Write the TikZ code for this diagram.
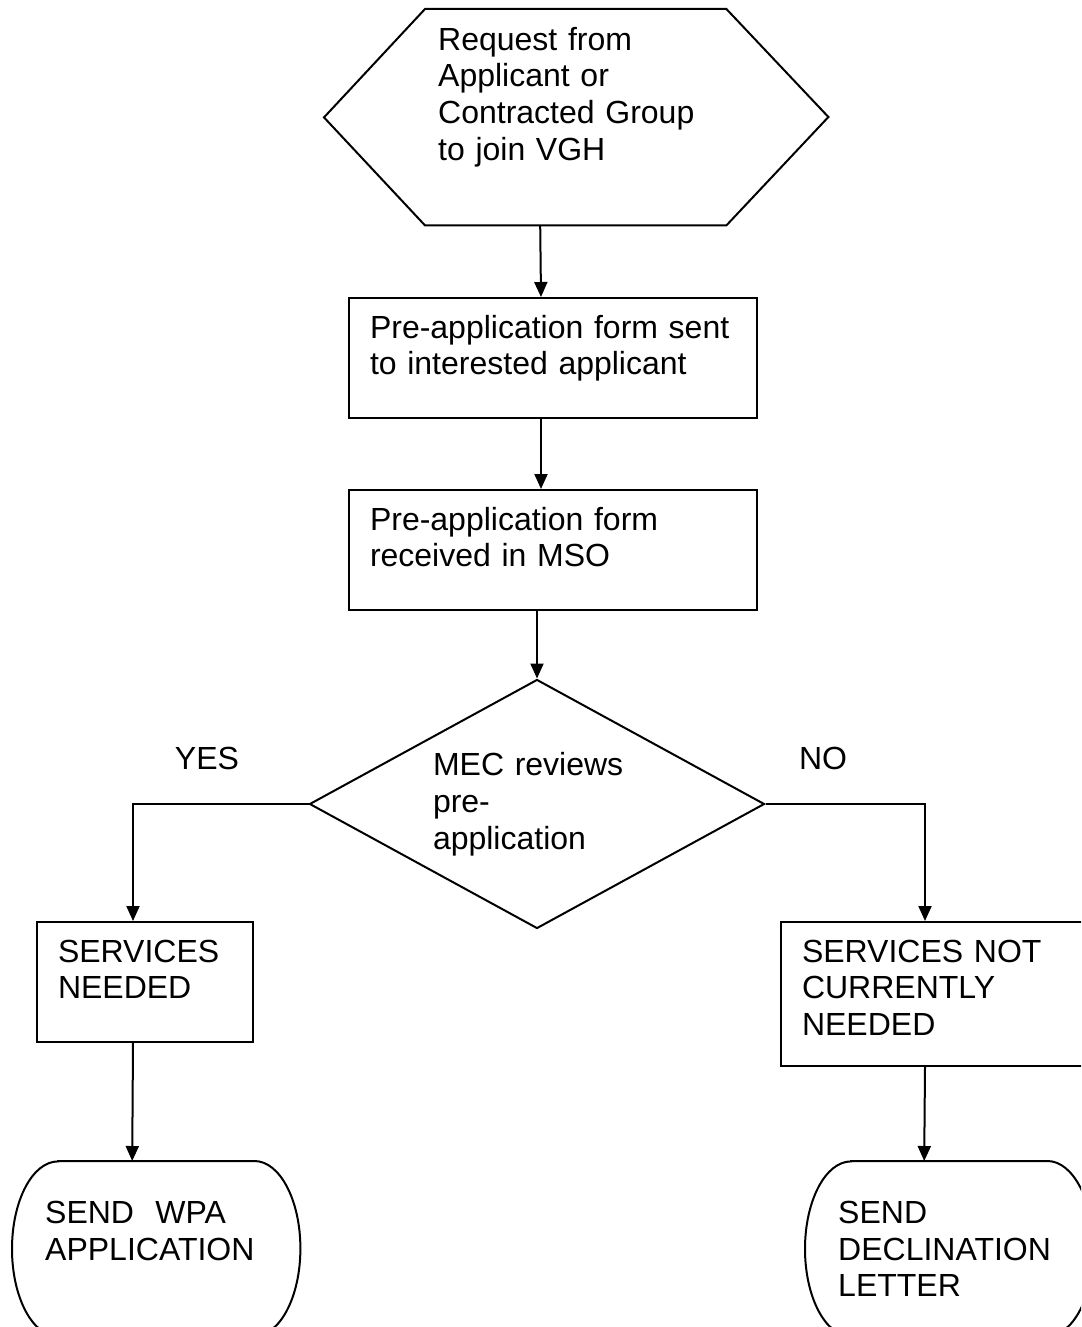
\documentclass[tikz,border=0pt]{standalone}
\usepackage{fontspec}
\setmainfont{Liberation Sans}
\usetikzlibrary{shapes.geometric,arrows.meta}

\begin{document}
\begin{tikzpicture}
[flowArrow/.style={-{Triangle[length=15pt,width=13pt]},line width=2pt},%
  flowLine/.style={line width=2pt},%
  flowBox/.style={shape=rectangle,draw,line width=2pt,anchor=north west,align=left,inner xsep=21pt,inner ysep=0pt,text height=40pt},%
  flowDecision/.style={shape=diamond,draw,line width=2pt,align=left,inner sep=0pt,aspect=1.83},%
  flowTerminal/.style={shape=rectangle,anchor=north west,align=left,inner xsep=33pt,inner ysep=0pt,text height=62pt,text width=222pt,text depth=113pt},%
  flowLabel/.style={inner sep=0pt},%
  every node/.style={font=\fontsize{32}{36.8}\selectfont},%
  x=1pt,y=-1pt]
\useasboundingbox (0,0) rectangle (1081,1327);
\clip (0,0) rectangle (1081,1327);
%% nodes or vertices
\node (req) at (425,9) [shape=rectangle,anchor=north west,align=left,inner xsep=13pt,inner ysep=0pt,text width=275pt,text height=41pt,text depth=175pt]
  {Request from\\Applicant or\\Contracted Group\\to join VGH};
\node (sent) at (348,297) [flowBox,text width=366pt,text depth=80pt] {Pre-application form sent\\to interested applicant};
\node (rcvd) at (348,489) [flowBox,text width=366pt,text depth=80pt] {Pre-application form\\received in MSO};
\node (mec) at (537,804) [flowDecision,minimum width=455pt,minimum height=249pt,text width=208pt] {MEC reviews\\pre-\\application};
\node (yes) at (207,758) [flowLabel] {YES};
\node (no) at (823,758) [flowLabel] {NO};
\node (needed) at (36,921) [flowBox,text width=174pt,text depth=80pt] {SERVICES\\NEEDED};
\node (notneeded) at (780,921) [flowBox,text width=260pt,text depth=104pt] {SERVICES NOT\\CURRENTLY\\NEEDED};
\node (wpa) at (12,1161) [flowTerminal] {SEND~ WPA\\APPLICATION};
\node (decline) at (805,1161) [flowTerminal] {SEND\\DECLINATION\\LETTER};
%% outlines drawn round the nodes
\draw[flowLine] (req.north west) -- (req.north east) -- ++(102,108) -- (req.south east)
  -- (req.south west) -- ++(-101,-108) -- cycle;
\foreach \term in {wpa,decline}
{
  \draw[flowLine] ([xshift=46pt]\term.north west) -- ([xshift=-46pt]\term.north east)
    arc[start angle=90,end angle=-90,x radius=46pt,y radius=87.5pt]
    -- ([xshift=46pt]\term.south west)
    arc[start angle=270,end angle=90,x radius=46pt,y radius=87.5pt] -- cycle;
}
%% arrows
\draw[flowArrow] ([xshift=-35.5pt]req.south) -- ([xshift=-12pt]sent.north);
\draw[flowArrow] ([xshift=-12pt]sent.south) -- ([xshift=-12pt]rcvd.north);
\draw[flowArrow] (mec.north |- rcvd.south) -- (mec.north);
\draw[flowArrow] (mec.west) -| ([xshift=-12pt]needed.north);
\draw[flowArrow] (mec.east) -| ([xshift=-7pt]notneeded.north);
\draw[flowArrow] ([xshift=-12pt]needed.south) -- ([xshift=-24pt]wpa.north);
\draw[flowArrow] ([xshift=-7pt]notneeded.south) -- ([xshift=-25pt]decline.north);
\end{tikzpicture}
\end{document}
